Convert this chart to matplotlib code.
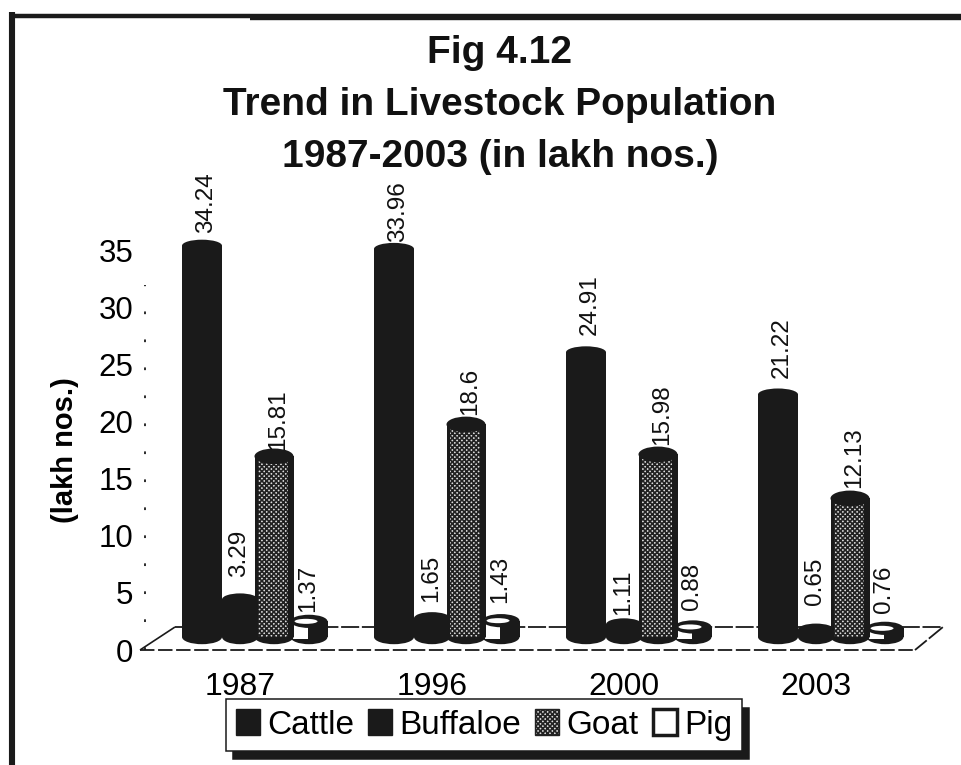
import matplotlib
matplotlib.use("Agg")
import matplotlib.pyplot as plt
from matplotlib.lines import Line2D
from matplotlib.patches import Ellipse, Patch

years = ["1987", "1996", "2000", "2003"]
cattle = [34.24, 33.96, 24.91, 21.22]
buffaloe = [3.29, 1.65, 1.11, 0.65]
goat = [15.81, 18.6, 15.98, 12.13]
pig = [1.37, 1.43, 0.88, 0.76]
yticks = [0, 5, 10, 15, 20, 25, 30, 35]

W, H = 962, 765
DARK = "#1a1a1a"
plt.rcParams["font.family"] = ["Liberation Sans", "DejaVu Sans"]
plt.rcParams["hatch.linewidth"] = 1.2

fig = plt.figure(figsize=(W / 100, H / 100), dpi=100, facecolor="white")
L, R, B, T = 143, 915, 650, 250
SP = 192
ax = fig.add_axes([L / W, 1 - B / H, (R - L) / W, (B - T) / H])
ax.set_zorder(2)
ax.set_xlim((L - 240) / SP, (R - 240) / SP)
ax.set_ylim(0, 35)
ax.patch.set_visible(False)
for s in ax.spines.values():
    s.set_visible(False)
ax.set_xticks(range(len(years)), years)
ax.set_yticks(yticks)
ax.tick_params(axis="y", length=0, pad=7, labelsize=22.5)
ax.tick_params(axis="x", length=0, pad=16, labelsize=23)
ax.set_ylabel("(lakh nos.)", fontsize=21, fontweight="bold")
ax.yaxis.set_label_coords((79 - L) / (R - L), (B - 450) / (B - T))

px_x = 1 / SP
px_y = 35 / (B - T)
base = 13 * px_y
ell_h = 12 * px_y


def ellipse(x, y, w, h, fc, z=3):
    ax.add_patch(Ellipse((x, y), w, h, facecolor=fc, edgecolor=fc, lw=0, zorder=z, clip_on=False))


def cylinder(x, v, w, kind, z):
    top = base + v
    ellipse(x, base, w, ell_h * 1.2, DARK, z=z)
    if kind == "dark":
        ax.bar(x, v, w, bottom=base, color=DARK, zorder=z, clip_on=False)
        ellipse(x, top, w, ell_h, DARK, z=z)
    elif kind == "goat":
        ax.bar(x, v, w, bottom=base, facecolor="#dcdcdc", edgecolor="#222222",
               hatch="xxxxxxx", lw=0, zorder=z, clip_on=False)
        ax.bar(x + w * 0.43, v, w * 0.14, bottom=base, color=DARK, zorder=z, clip_on=False)
        ax.bar(x - w * 0.46, v, w * 0.08, bottom=base, color=DARK, zorder=z, clip_on=False)
        ellipse(x, top, w, ell_h * 1.3, DARK, z=z)
    else:
        ax.bar(x, v, w, bottom=base, color=DARK, zorder=z, clip_on=False)
        ax.bar(x - w * 0.23, v + 2 * px_y, w * 0.42, bottom=base - 2 * px_y, color="white",
               zorder=z, clip_on=False)
        ellipse(x, top, w, ell_h * 1.1, DARK, z=z)
        ellipse(x - w * 0.08, top, w * 0.62, ell_h * 0.42, "white", z=z)


series = [
    (cattle, "dark", -38 * px_x, 40 * px_x, 4, [233, 242, 335, 378]),
    (buffaloe, "dark", 0, 36 * px_x, -1, [577, 602, 615, 605]),
    (goat, "goat", 34 * px_x, 39 * px_x, 4, [450, 415, 445, 488]),
    (pig, "pig", 69 * px_x, 37 * px_x, -1, [612, 603, 610, 613]),
]
for k, (vals, kind, off, w, dx, label_bottoms) in enumerate(series):
    for i, v in enumerate(vals):
        cylinder(i + off, v, w, kind, 8 if kind == "goat" else 3 + k)
        top_px = B - (base + v) / px_y
        ax.annotate(f"{v:g}", (i + off, base + v), xytext=(dx, top_px - label_bottoms[i]),
                    textcoords="offset pixels", rotation=90, ha="center", va="bottom",
                    fontsize=17.5, color="#111111", zorder=20, annotation_clip=False)


def fline(xs, ys, lw=1.5, ls="-", cap="butt"):
    fig.add_artist(Line2D([x / W for x in xs], [1 - y / H for y in ys], color=DARK, lw=lw, ls=ls,
                          solid_capstyle=cap, transform=fig.transFigure, zorder=1))


# Floor of the 3D box
fline([140, 915], [650, 650], lw=1.3, ls=(0, (8, 2)))
fline([140, 175], [650, 627], lw=1.2)
fline([175, 943, 915], [627, 627, 650], lw=1.3, ls=(0, (10, 1.5)))
fline([145, 145], [650, 285], lw=1.3, ls=(0, (1.5, 14)))

# Frame: left and top edges only, running off the page
fline([12, 12], [12, H], lw=4.4)
fline([10, 250], [15.5, 15.5], lw=3.2)
fline([250, W], [17, 17], lw=4.6)

# Title
for y, line in [(63, "Fig 4.12"), (115, "Trend in Livestock Population"), (167, "1987-2003 (in lakh nos.)")]:
    fig.text(500 / W, 1 - y / H, line, ha="center", va="baseline", fontsize=28, fontweight="bold", color="#111111")

handles = [Patch(facecolor=DARK, edgecolor=DARK), Patch(facecolor=DARK, edgecolor=DARK),
           Patch(facecolor="#dcdcdc", edgecolor="#222222", hatch="xxxxxxx"),
           Patch(facecolor="white", edgecolor=DARK, lw=2.5)]
leg = fig.legend(handles, ["Cattle", "Buffaloe", "Goat", "Pig"], ncol=4, fontsize=24,
                 loc="center", bbox_to_anchor=(484 / W, 1 - 725 / H),
                 handlelength=0.72, handleheight=0.8, handletextpad=0.22, columnspacing=0.42,
                 borderpad=0.3, borderaxespad=0, labelspacing=0, fancybox=False,
                 edgecolor=DARK, framealpha=1,
                 shadow={"ox": 5, "oy": -6, "facecolor": DARK, "edgecolor": DARK, "alpha": 1})
leg.get_frame().set_linewidth(1.1)
fig.savefig("out.png", dpi=100, facecolor="white")
